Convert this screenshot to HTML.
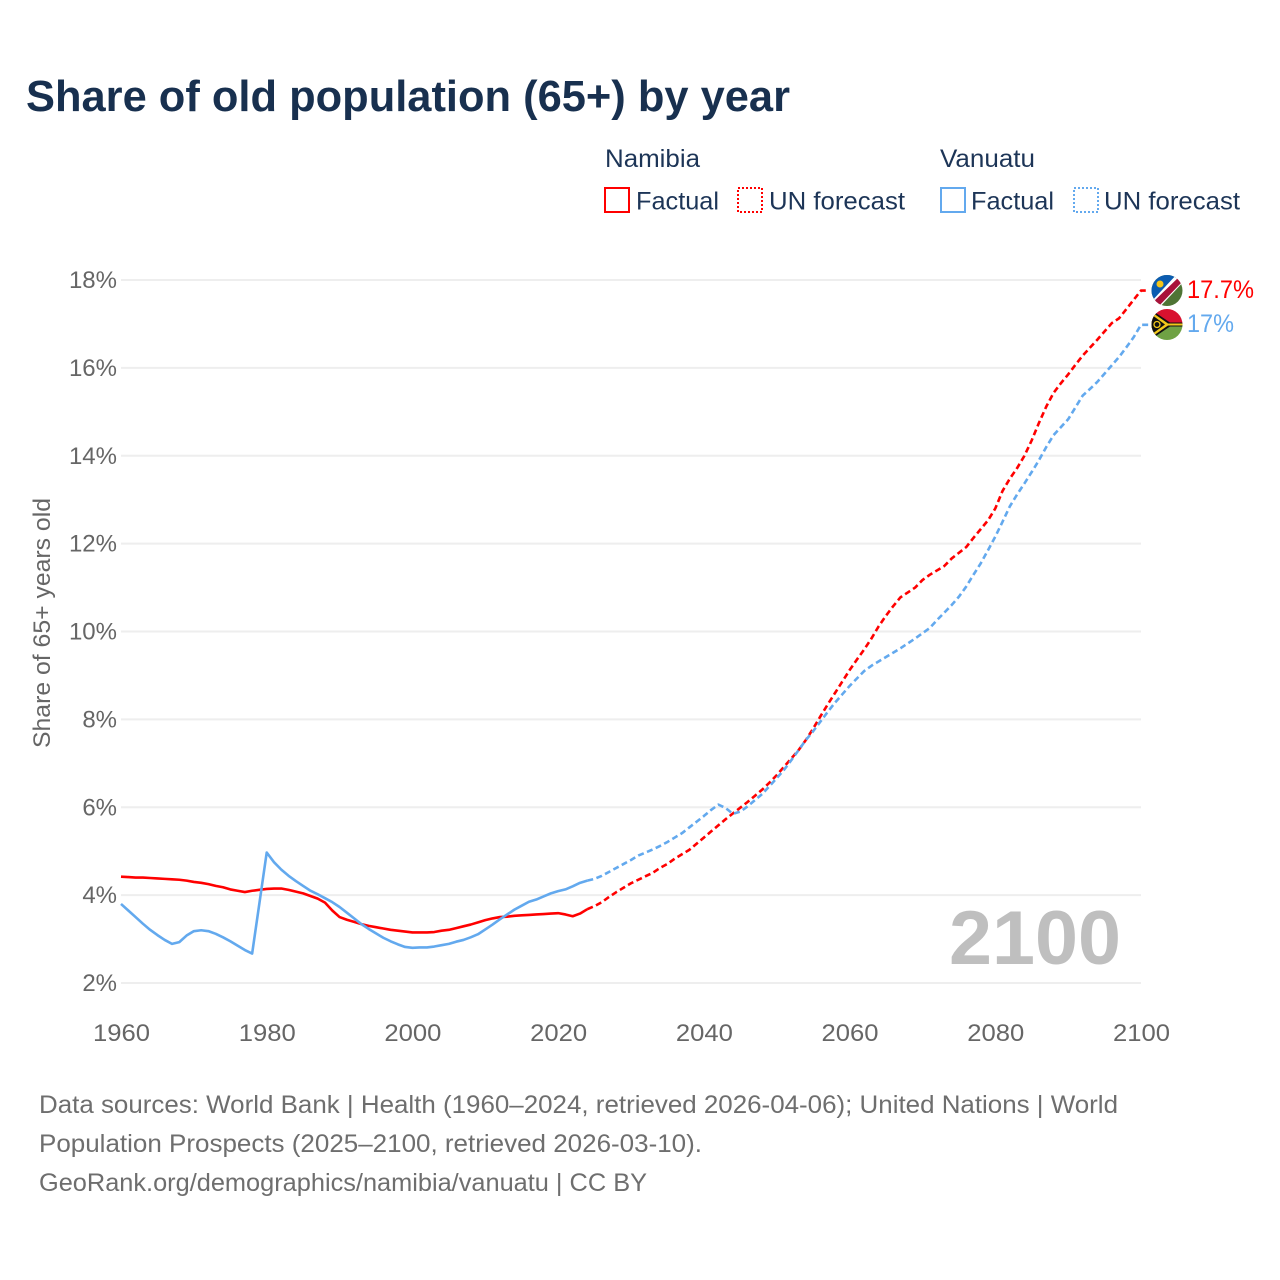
<!DOCTYPE html>
<html lang="en">
<head>
<meta charset="utf-8">
<title>Share of old population (65+) by year</title>
<style>
html,body{margin:0;padding:0;background:#fff;}
svg{display:block;}
text{font-family:"Liberation Sans",sans-serif;}
</style>
</head>
<body>
<svg id="chart" xmlns="http://www.w3.org/2000/svg" width="1280" height="1280" viewBox="0 0 1280 1280">
  <defs>
    <clipPath id="clip-nam"><circle cx="1167" cy="290.500" r="15.500"/></clipPath>
    <clipPath id="clip-van"><circle cx="1167" cy="324.500" r="15.500"/></clipPath>
  </defs>
  <rect x="0" y="0" width="1280" height="1280" fill="#fff"/>
  <text x="26" y="111" font-size="44" font-weight="700" fill="#18304f" textLength="764" lengthAdjust="spacingAndGlyphs">Share of old population (65+) by year</text>

  <g font-size="25" fill="#1d3557">
    <text x="605" y="167" textLength="95" lengthAdjust="spacingAndGlyphs">Namibia</text>
    <rect x="605" y="188" width="24" height="24" fill="none" stroke="#ff0000" stroke-width="2"/>
    <text x="636" y="209.500" textLength="83" lengthAdjust="spacingAndGlyphs">Factual</text>
    <rect x="738" y="188" width="24" height="24" fill="none" stroke="#ff0000" stroke-width="2" stroke-dasharray="2,2"/>
    <text x="769" y="209.500" textLength="136" lengthAdjust="spacingAndGlyphs">UN forecast</text>
    <text x="940" y="167" textLength="95" lengthAdjust="spacingAndGlyphs">Vanuatu</text>
    <rect x="941" y="188" width="24" height="24" fill="none" stroke="#63a9ee" stroke-width="2"/>
    <text x="971" y="209.500" textLength="83" lengthAdjust="spacingAndGlyphs">Factual</text>
    <rect x="1074" y="188" width="24" height="24" fill="none" stroke="#63a9ee" stroke-width="2" stroke-dasharray="2,2"/>
    <text x="1104" y="209.500" textLength="136" lengthAdjust="spacingAndGlyphs">UN forecast</text>
  </g>

  <g id="grid"></g>
  <g id="yticks"></g>
  <g id="xticks"></g>
  <text transform="translate(50,623) rotate(-90)" text-anchor="middle" font-size="24" fill="#666666" textLength="250" lengthAdjust="spacingAndGlyphs">Share of 65+ years old</text>

  <text x="949" y="964" font-size="76" font-weight="700" fill="#bfbfbf" textLength="172" lengthAdjust="spacingAndGlyphs">2100</text>

  <g id="series"></g>

  <g clip-path="url(#clip-nam)">
    <rect x="1150" y="273" width="34" height="36" fill="#4f7435"/>
    <polygon points="1150,273 1180,273 1150,304" fill="#0b5cb0"/>
    <polygon points="1178,273 1186,279 1158,309 1150,303" fill="#ffffff"/>
    <polygon points="1180,276 1184,280 1157,308 1152,303" fill="#a8123a"/>
    <circle cx="1160" cy="284" r="3.500" fill="#f5c518"/>
  </g>
  <g clip-path="url(#clip-van)">
    <rect x="1150" y="307" width="34" height="18" fill="#d8112f"/>
    <rect x="1150" y="324" width="34" height="18" fill="#6fa244"/>
    <polygon points="1150,309 1170,322.500 1184,322.500 1184,326.500 1170,326.500 1150,340" fill="#111111"/>
    <polygon points="1150,311 1168,323.500 1184,323.500 1184,325.500 1168,325.500 1150,338" fill="#f2c71b"/>
    <polygon points="1150,313.500 1165,324.500 1150,335.500" fill="#111111"/>
    <circle cx="1157" cy="324.500" r="3" fill="none" stroke="#f2c71b" stroke-width="1.300"/>
  </g>

  <text x="1187" y="298" font-size="25" fill="#ff0000" textLength="67" lengthAdjust="spacingAndGlyphs">17.7%</text>
  <text x="1187" y="332" font-size="25" fill="#63a9ee" textLength="47" lengthAdjust="spacingAndGlyphs">17%</text>

  <g font-size="25" fill="#6e6e6e">
    <text x="39" y="1113" textLength="1079" lengthAdjust="spacingAndGlyphs">Data sources: World Bank | Health (1960–2024, retrieved 2026-04-06); United Nations | World</text>
    <text x="39" y="1152" textLength="663" lengthAdjust="spacingAndGlyphs">Population Prospects (2025–2100, retrieved 2026-03-10).</text>
    <text x="39" y="1191" textLength="608" lengthAdjust="spacingAndGlyphs">GeoRank.org/demographics/namibia/vanuatu | CC BY</text>
  </g>
</svg>
<script>
const xTickYears = [1960, 1980, 2000, 2020, 2040, 2060, 2080, 2100];
const yTickValues = [2, 4, 6, 8, 10, 12, 14, 16, 18];
const factualStartYear = 1960;
const forecastStartYear = 2024;
const namibiaFactual = [
  4.42,4.41,4.40,4.40,4.39,4.38,4.37,4.36,4.35,4.33,
  4.30,4.28,4.25,4.21,4.18,4.13,4.10,4.07,4.10,4.12,
  4.14,4.15,4.15,4.12,4.08,4.04,3.98,3.92,3.83,3.65,
  3.50,3.44,3.39,3.34,3.30,3.27,3.24,3.21,3.19,3.17,
  3.15,3.15,3.15,3.16,3.19,3.21,3.25,3.29,3.33,3.38,
  3.43,3.47,3.50,3.51,3.53,3.54,3.55,3.56,3.57,3.58,
  3.59,3.56,3.52,3.58,3.68
];
const vanuatuFactual = [
  3.80,3.65,3.50,3.35,3.21,3.09,2.98,2.89,2.93,3.08,
  3.18,3.20,3.18,3.12,3.04,2.95,2.85,2.75,2.67,3.82,
  4.97,4.75,4.58,4.44,4.32,4.21,4.10,4.02,3.93,3.84,
  3.73,3.60,3.47,3.34,3.23,3.13,3.03,2.95,2.88,2.82,
  2.80,2.81,2.81,2.83,2.86,2.89,2.94,2.98,3.04,3.11,
  3.22,3.33,3.45,3.56,3.67,3.76,3.85,3.90,3.97,4.04,
  4.09,4.13,4.20,4.28,4.33
];
const namibiaForecast = [
  3.68,3.75,3.84,3.96,4.07,4.17,4.27,4.35,4.43,4.51,
  4.62,4.71,4.83,4.93,5.03,5.17,5.31,5.45,5.59,5.73,
  5.86,5.99,6.12,6.26,6.40,6.56,6.73,6.92,7.11,7.30,
  7.53,7.79,8.07,8.34,8.60,8.86,9.12,9.36,9.59,9.84,
  10.12,10.36,10.58,10.78,10.89,11.00,11.17,11.29,11.39,11.49,
  11.66,11.79,11.92,12.13,12.33,12.53,12.80,13.20,13.48,13.72,
  14.00,14.35,14.75,15.12,15.43,15.65,15.85,16.07,16.28,16.46,
  16.64,16.83,17.02,17.13,17.34,17.55,17.76
];
const vanuatuForecast = [
  4.33,4.37,4.44,4.53,4.62,4.71,4.80,4.90,4.97,5.04,
  5.12,5.21,5.31,5.41,5.54,5.67,5.80,5.94,6.06,5.98,
  5.85,5.90,6.02,6.16,6.30,6.48,6.66,6.85,7.07,7.30,
  7.53,7.73,7.95,8.17,8.38,8.57,8.76,8.93,9.10,9.22,
  9.32,9.42,9.52,9.62,9.73,9.84,9.96,10.08,10.26,10.43,
  10.60,10.79,11.02,11.29,11.55,11.85,12.16,12.50,12.85,13.12,
  13.37,13.63,13.90,14.20,14.47,14.65,14.83,15.10,15.37,15.52,
  15.68,15.87,16.06,16.25,16.47,16.70,16.98
];

const SVG_NS = 'http://www.w3.org/2000/svg';
const plotLeft = 121, plotRight = 1141, plotTop = 280, plotBottom = 983;
const xMin = 1960, xMax = 2100, yMin = 2, yMax = 18;
function xScale(year) {
  return plotLeft + (year - xMin) / (xMax - xMin) * (plotRight - plotLeft);
}
function yScale(value) {
  return plotBottom - (value - yMin) / (yMax - yMin) * (plotBottom - plotTop);
}
function linePoints(startYear, values) {
  return values.map(function (v, i) {
    return xScale(startYear + i).toFixed(2) + ',' + yScale(v).toFixed(2);
  });
}

const gridGroup = document.getElementById('grid');
const yTickGroup = document.getElementById('yticks');
const xTickGroup = document.getElementById('xticks');
const seriesGroup = document.getElementById('series');

yTickValues.forEach(function (v) {
  const line = document.createElementNS(SVG_NS, 'line');
  
  
  line.setAttribute('x1', plotLeft);
  line.setAttribute('x2', plotRight);
  line.setAttribute('y1', yScale(v));
  line.setAttribute('y2', yScale(v));
  line.setAttribute('stroke', '#eeeeee');
  line.setAttribute('stroke-width', '2');
  gridGroup.appendChild(line);

  const label = document.createElementNS(SVG_NS, 'text');
  
  
  label.setAttribute('x', 117);
  label.setAttribute('y', yScale(v) + 8);
  label.setAttribute('text-anchor', 'end');
  label.setAttribute('font-size', '24');
  label.setAttribute('fill', '#666666');
  label.textContent = v + '%';
  yTickGroup.appendChild(label);
});

xTickYears.forEach(function (year) {
  const label = document.createElementNS(SVG_NS, 'text');
  
  
  label.setAttribute('x', xScale(year) + 0.500);
  label.setAttribute('y', 1041);
  label.setAttribute('text-anchor', 'middle');
  label.setAttribute('font-size', '24');
  label.setAttribute('fill', '#666666');
  label.setAttribute('textLength', '57');
  label.setAttribute('lengthAdjust', 'spacingAndGlyphs');
  label.textContent = String(year);
  xTickGroup.appendChild(label);
});

function drawFactual(values, color, name) {
  const path = document.createElementNS(SVG_NS, 'polyline');
  
  
  path.setAttribute('points', linePoints(factualStartYear, values).join(' '));
  path.setAttribute('fill', 'none');
  path.setAttribute('stroke', color);
  path.setAttribute('stroke-width', '2.600');
  path.setAttribute('stroke-linejoin', 'round');
  seriesGroup.appendChild(path);
}
function drawForecast(values, color, name) {
  const path = document.createElementNS(SVG_NS, 'polyline');
  const pts = linePoints(forecastStartYear, values);
  const last = values[values.length - 1];
  pts.push((plotRight + 8) + ',' + yScale(last).toFixed(2));
  
  
  path.setAttribute('points', pts.join(' '));
  path.setAttribute('fill', 'none');
  path.setAttribute('stroke', color);
  path.setAttribute('stroke-width', '2.600');
  path.setAttribute('stroke-dasharray', '6,3.500');
  path.setAttribute('stroke-linejoin', 'round');
  seriesGroup.appendChild(path);
}
drawFactual(namibiaFactual, '#ff0000', 'namibia-factual-line');
drawForecast(namibiaForecast, '#ff0000', 'namibia-forecast-line');
drawFactual(vanuatuFactual, '#63a9ee', 'vanuatu-factual-line');
drawForecast(vanuatuForecast, '#63a9ee', 'vanuatu-forecast-line');
</script>
</body>
</html>
